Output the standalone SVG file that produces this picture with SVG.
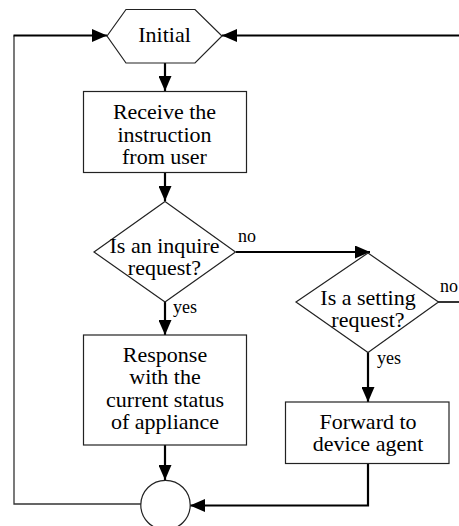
<svg xmlns="http://www.w3.org/2000/svg" width="459" height="526" viewBox="0 0 459 526">
<style>
.shape{fill:#fff;stroke:#222;stroke-width:1.2}
.t{font-size:22px;fill:#000;text-anchor:middle}
.lbl{font-size:18px;fill:#000}
.arr{fill:none;stroke:#000;stroke-width:2.2}
.thin{fill:none;stroke:#333;stroke-width:1.3}
</style>
<defs>
<marker id="ah" markerWidth="15" markerHeight="13" refX="15" refY="6.5" orient="auto" markerUnits="userSpaceOnUse">
<path d="M0,0 L15,6.5 L0,13 Z" fill="#000"/>
</marker>
</defs>
<rect width="459" height="526" fill="#fff"/>
<g id="connectors">
<path class="thin" d="M141,504 H14 V35.5"/>
<path class="arr" d="M13.5,35.5 H107" marker-end="url(#ah)"/>
<path class="arr" d="M459,35.5 H222" marker-end="url(#ah)"/>
<path class="arr" d="M165,63 V91" marker-end="url(#ah)"/>
<path class="arr" d="M165,172 V201" marker-end="url(#ah)"/>
<path class="arr" d="M236,252 H370" marker-end="url(#ah)"/>
<path class="arr" d="M165,302 V335" marker-end="url(#ah)"/>
<path class="arr" d="M368,352 V402" marker-end="url(#ah)"/>
<path class="arr" d="M165,445 V480" marker-end="url(#ah)"/>
<path class="arr" d="M368,463 V505.5 H190" marker-end="url(#ah)"/>
<path d="M438,302 H459" fill="none" stroke="#000" stroke-width="1.6"/>
<g font-family="Liberation Serif, Times New Roman, serif">
<text class="lbl" x="238" y="242">no</text>
<text class="lbl" x="173" y="313">yes</text>
<text class="lbl" x="440" y="292">no</text>
<text class="lbl" x="377" y="364">yes</text>
</g>
</g>
<g id="initial" font-family="Liberation Serif, Times New Roman, serif">
<polygon class="shape" points="107,36 126,9.5 195,9.5 222,36 195,63 126,63"/>
<text class="t" x="164.5" y="42">Initial</text>
</g>
<g id="receive" font-family="Liberation Serif, Times New Roman, serif">
<rect class="shape" x="83.5" y="91.5" width="163" height="81"/>
<text class="t" x="164.5" y="119">Receive the</text>
<text class="t" x="164.5" y="141.5">instruction</text>
<text class="t" x="164.5" y="163.5">from user</text>
</g>
<g id="inquire" font-family="Liberation Serif, Times New Roman, serif">
<polygon class="shape" points="165,201.5 235.5,252 165,302 94,252"/>
<text class="t" x="164.5" y="253">Is an inquire</text>
<text class="t" x="164.5" y="275">request?</text>
</g>
<g id="setting" font-family="Liberation Serif, Times New Roman, serif">
<polygon class="shape" points="368,253 438.5,302 368,352.5 296,302"/>
<text class="t" x="368" y="305">Is a setting</text>
<text class="t" x="368" y="327">request?</text>
</g>
<g id="response" font-family="Liberation Serif, Times New Roman, serif">
<rect class="shape" x="83.5" y="335" width="163" height="110"/>
<text class="t" x="165" y="362">Response</text>
<text class="t" x="165" y="384">with the</text>
<text class="t" x="165" y="406.5">current status</text>
<text class="t" x="165" y="429">of appliance</text>
</g>
<g id="forward" font-family="Liberation Serif, Times New Roman, serif">
<rect class="shape" x="285.5" y="402" width="163.5" height="61.5"/>
<text class="t" x="368" y="428.5">Forward to</text>
<text class="t" x="368" y="451">device agent</text>
</g>
<g id="merge">
<circle class="shape" cx="165.5" cy="505" r="24.7"/>
</g>
</svg>
